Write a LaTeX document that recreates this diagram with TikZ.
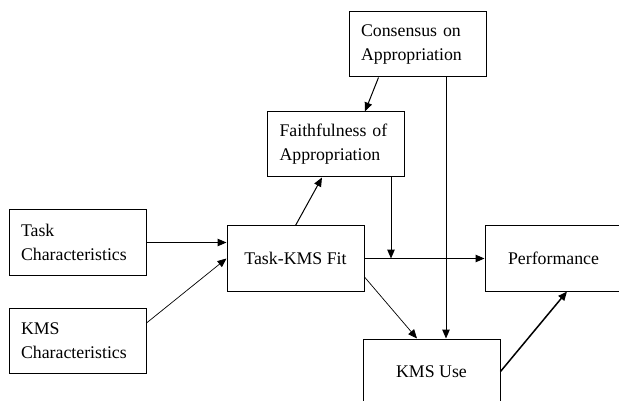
\documentclass[tikz,border=0pt]{standalone}
\usepackage{fontspec}
\setmainfont{Liberation Serif}
\usepackage{tikz}
\usetikzlibrary{arrows.meta}
\tikzstyle{block}=[rectangle,draw=black,inner sep=0mm,minimum width=137pt,minimum height=65pt,font=\fontsize{17.8}{24}\selectfont]
\tikzstyle{tblock}=[block,text width=113pt,align=left]
\tikzstyle{arrow}=[-{Triangle[length=9pt,width=7.5pt]}]
\tikzset{every picture/.style={
    line width=1pt
  }
}

\begin{document}
\begin{tikzpicture}[x=1pt,y=-1pt]
      \useasboundingbox (0,0) rectangle (619,401);
      \clip (0,0) rectangle (619,401);
      \node[tblock] at (417.5,44.5) (cons) {Consensus on\\Appropriation};
      \node[tblock] at (336,144.5) (faith) {Faithfulness of\\Appropriation};
      \node[tblock] at (77.5,242.5) (task) {Task\\Characteristics};
      \node[tblock] at (77.5,340.5) (kmsc) {KMS\\Characteristics};
      \node[block] at (295.5,258.5) (fit) {Task-KMS Fit};
      \node[block] at (553.5,258.5) (perf) {Performance};
      \node[block] at (431.5,371.5) (use) {KMS Use};
      \draw[arrow] (task.east) -- (task.east -| fit.west);
      \draw[arrow,line width=0.7pt] ([yshift=17.5pt]kmsc.east) -- (fit.west);
      \draw[arrow] (fit.north) -- ([xshift=-14pt]faith.south);
      \draw[arrow] ([xshift=-39pt]cons.south) -- ([xshift=29pt]faith.north);
      \draw[arrow] ([xshift=55pt]faith.south) -- ([xshift=55pt]faith.south |- fit.east);
      \draw[arrow] (fit.east) -- (perf.west);
      \draw[arrow] ([xshift=28.5pt]cons.south) -- ([xshift=28.5pt]cons.south |- use.north);
      \draw[arrow,line width=0.7pt] ([yshift=-18.5pt]fit.east) -- ([xshift=-14.5pt]use.north);
      \draw[arrow,line width=1.5pt] (use.east) -- ([xshift=13.5pt]perf.south);
    \end{tikzpicture}
\end{document}
